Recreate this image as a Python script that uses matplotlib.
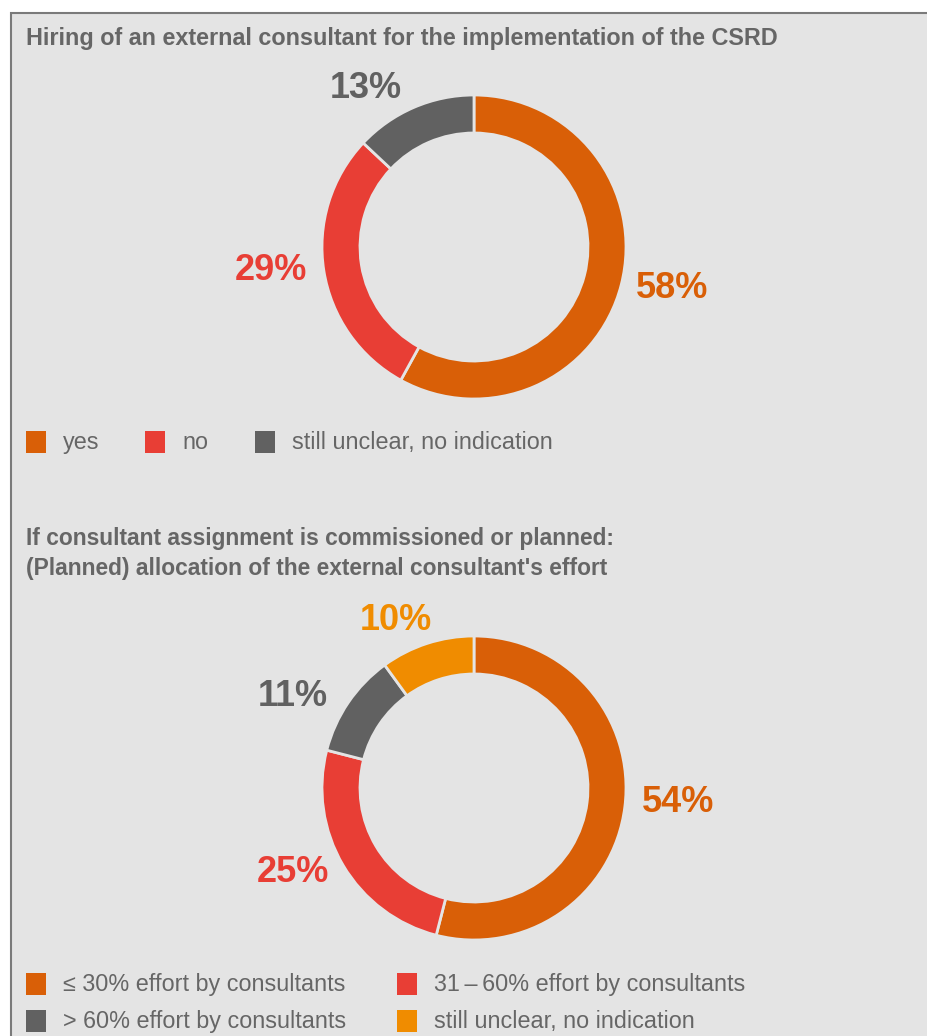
import matplotlib
matplotlib.use('Agg')
import matplotlib.pyplot as plt
from matplotlib.patches import Rectangle

plt.rcParams['font.family'] = ['Liberation Sans', 'DejaVu Sans']

# hiring of an external consultant
hire_labels = ['yes', 'no', 'still unclear, no indication']
hire_values = [58, 29, 13]
hire_colors = ['#d95f07', '#e83e35', '#616161']

# allocation of the consultant's effort
effort_labels = ['\u2264 30% effort by consultants', '31\u2009\u2013\u200960% effort by consultants',
                 '> 60% effort by consultants', 'still unclear, no indication']
effort_values = [54, 25, 11, 10]
effort_colors = ['#d95f07', '#e83e35', '#616161', '#f08c00']

W, H = 927, 1036
BG = '#e4e4e4'
TXT = '#666666'

fig = plt.figure(figsize=(W / 100, H / 100), dpi=100)
fig.patch.set_facecolor('white')

# panel background with left/top border
bg = fig.add_axes([0, 0, 1, 1])
bg.set_xlim(0, W)
bg.set_ylim(H, 0)
bg.axis('off')
bg.add_patch(Rectangle((11, 13), W + 20, H + 20, facecolor=BG, edgecolor='#7a7a7a', lw=1.5))


def px(x, y):
    return x / W, 1 - y / H


def donut(cx, cy, r, values, colors, label_pos):
    ax = fig.add_axes([(cx - r) / W, 1 - (cy + r) / H, 2 * r / W, 2 * r / H])
    ax.pie(values, colors=colors, startangle=90, counterclock=False, radius=1,
           wedgeprops=dict(width=0.25, edgecolor=BG, linewidth=2))
    ax.set_xlim(-1, 1)
    ax.set_ylim(-1, 1)
    ax.set_aspect('auto')
    for v, c, (lx, ly) in zip(values, colors, label_pos):
        fig.text(*px(lx, ly), '%d%%' % v, color=c, fontsize=26, fontweight='bold',
                 ha='center', va='center')


def legend(items, colors, positions):
    for lab, c, (x, y) in zip(items, colors, positions):
        bg.add_patch(Rectangle((x, y - 11), 20, 22, facecolor=c, edgecolor='none'))
        bg.text(x + 37, y - 2, lab, color=TXT, fontsize=16.8, va='center_baseline', ha='left')


fig.text(*px(26, 38), 'Hiring of an external consultant for the implementation of the CSRD',
         color=TXT, fontsize=16.8, fontweight='bold', va='center')
donut(474, 247, 152, hire_values, hire_colors, [(672, 289), (271, 270), (366, 88)])
legend(hire_labels, hire_colors, [(26, 442), (145, 442), (255, 442)])

fig.text(*px(26, 538), 'If consultant assignment is commissioned or planned:',
         color=TXT, fontsize=16.4, fontweight='bold', va='center')
fig.text(*px(26, 569), "(Planned) allocation of the external consultant's effort",
         color=TXT, fontsize=16.4, fontweight='bold', va='center')
donut(474, 788, 152, effort_values, effort_colors,
      [(678, 802), (293, 873), (293, 697), (396, 620)])
legend(effort_labels, effort_colors, [(26, 984), (397, 984), (26, 1021), (397, 1021)])

fig.savefig('out.png', dpi=100)
